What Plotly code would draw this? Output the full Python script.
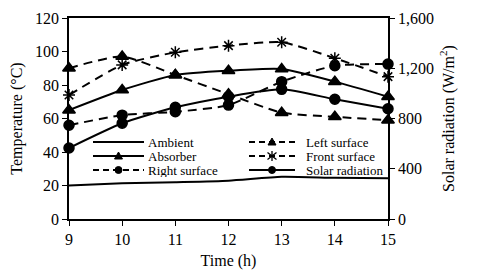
import plotly.graph_objects as go

hours = [9, 10, 11, 12, 13, 14, 15]
ambient = [20, 21.3, 22, 22.9, 25.2, 24.6, 24.3]
absorber = [65, 77, 86, 88.5, 89.5, 82, 73]
right_surface = [56, 62, 64, 68, 82, 91.5, 92.5]
left_surface = [90, 97, 86, 74.5, 63.5, 61, 59]
front_surface = [74, 92, 99.5, 103.5, 105.5, 96, 85]
solar_radiation = [565, 762, 889, 974, 1032, 953, 878]

FONT = "Liberation Serif, Times New Roman, serif"
BLACK = "black"
DASH = "9px,6px"

# the page body adds an 8px offset; size the figure to fit the window
OFF = 8
W, H = 480 - OFF, 277 - OFF
# plot area in window pixels: x 69..388, y 18..219
ML, MT = 69 - OFF, 18 - OFF
MR, MB = W - (388 - OFF), H - (219 - OFF)
PW, PH = W - ML - MR, H - MT - MB

fig = go.Figure()

series = [
    ("Ambient", ambient, None, "solid", "y"),
    ("Absorber", absorber, "triangle-up", "solid", "y"),
    ("Right surface", right_surface, "circle", DASH, "y"),
    ("Left surface", left_surface, "triangle-up", DASH, "y"),
    ("Front surface", front_surface, "asterisk-open", DASH, "y"),
    ("Solar radiation", solar_radiation, "circle", "solid", "y2"),
]

for name, y, symbol, dash, yaxis in series:
    size = 11 if symbol == "triangle-up" else 10
    fig.add_trace(go.Scatter(
        x=hours, y=y, name=name, yaxis=yaxis, showlegend=False,
        mode="lines+markers" if symbol else "lines",
        line=dict(color=BLACK, width=2, dash=dash, shape="spline", smoothing=0.6),
        marker=dict(symbol=symbol or "circle", size=size, color=BLACK,
                    line=dict(color=BLACK, width=1.5)),
        cliponaxis=False,
    ))

# ---- manual two-column legend (layout shapes + annotations), window pixels ----
def px(xw):
    return (xw - OFF - ML) / PW

def py(yw):
    return (MT + PH - (yw - OFF)) / PH

cols = [(93, 144, 147), (249, 295, 305)]
rows = [142, 156, 170]
legend_dash = "6px,4px"

shapes = []
annotations = []
for i, (name, y, symbol, dash, yaxis) in enumerate(series):
    x0, x1, xt = cols[i // 3]
    yr = rows[i % 3]
    ldash = "solid" if dash == "solid" else legend_dash
    shapes.append(dict(type="line", xref="paper", yref="paper",
                       x0=px(x0), x1=px(x1), y0=py(yr), y1=py(yr),
                       line=dict(color=BLACK, width=2, dash=ldash)))
    xm, ym = px((x0 + x1) / 2), py(yr)
    common = dict(xref="paper", yref="paper", xsizemode="pixel", ysizemode="pixel",
                  xanchor=xm, yanchor=ym)
    if symbol == "circle":
        shapes.append(dict(type="circle", x0=-3.5, x1=3.5, y0=-3.5, y1=3.5,
                           fillcolor=BLACK, line=dict(color=BLACK, width=1), **common))
    elif symbol == "triangle-up":
        shapes.append(dict(type="path", path="M-4,-3 L4,-3 L0,4 Z",
                           fillcolor=BLACK, line=dict(color=BLACK, width=1), **common))
    elif symbol == "asterisk-open":
        shapes.append(dict(type="path",
                           path="M0,-5 L0,5 M-4.5,-3.5 L4.5,3.5 M-4.5,3.5 L4.5,-3.5",
                           line=dict(color=BLACK, width=1.3), **common))
    annotations.append(dict(text=name, xref="paper", yref="paper",
                            x=px(xt), y=py(yr), xanchor="left", yanchor="middle",
                            showarrow=False, height=14, borderpad=0,
                            font=dict(family=FONT, size=13, color=BLACK)))

tickfont = dict(family=FONT, size=16, color=BLACK)
titlefont = dict(family=FONT, size=16, color=BLACK)

fig.update_layout(
    width=W, height=H,
    margin=dict(l=ML, r=MR, t=MT, b=MB, autoexpand=False),
    paper_bgcolor="white", plot_bgcolor="white",
    font=dict(family=FONT, size=16, color=BLACK),
    showlegend=False,
    shapes=shapes, annotations=annotations,
    xaxis=dict(
        range=[9, 15], dtick=1, tick0=9, tickfont=tickfont, automargin=False,
        showline=True, linecolor=BLACK, linewidth=1.5, mirror=True,
        ticks="outside", ticklen=5, tickcolor=BLACK, showgrid=False, zeroline=False,
        title=dict(text="Time (h)", standoff=8, font=titlefont),
    ),
    yaxis=dict(
        range=[0, 120], dtick=20, tickfont=tickfont, automargin=False,
        showline=True, linecolor=BLACK, linewidth=1.5,
        ticks="outside", ticklen=5, tickcolor=BLACK, showgrid=False, zeroline=False,
        title=dict(text="Temperature (°C)", standoff=8, font=titlefont),
    ),
    yaxis2=dict(
        range=[0, 1600], dtick=400, tickformat=",", tickfont=tickfont, automargin=False,
        overlaying="y", side="right",
        showline=True, linecolor=BLACK, linewidth=1.5,
        ticks="outside", ticklen=5, tickcolor=BLACK, showgrid=False, zeroline=False,
        title=dict(text="Solar radiation (W/m<sup>2</sup>)", standoff=10, font=titlefont),
    ),
)

fig.write_html("out.html")
